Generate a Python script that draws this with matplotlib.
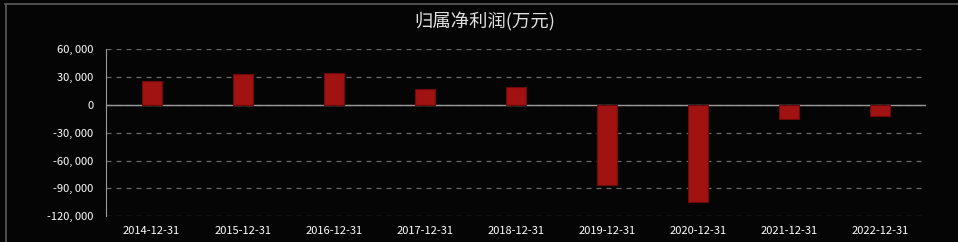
import matplotlib.pyplot as plt
from matplotlib.lines import Line2D
from matplotlib.ticker import FuncFormatter

plt.rcParams['font.family'] = ['Noto Sans CJK SC', 'DejaVu Sans']

# ===== データ =====
dates = ["2014-12-31", "2015-12-31", "2016-12-31", "2017-12-31", "2018-12-31",
         "2019-12-31", "2020-12-31", "2021-12-31", "2022-12-31"]
profit = [25700, 33200, 34600, 17100, 19300, -86800, -105000, -15000, -11800]
yticks = [60000, 30000, 0, -30000, -60000, -90000, -120000]

bg = "#050505"
fig = plt.figure(figsize=(9.58, 2.42), dpi=100, facecolor=bg)

# 外枠（上と左のみ）
fig.add_artist(Line2D([5 / 958, 1.0], [1 - 3.5 / 242] * 2, transform=fig.transFigure,
                      color="#555555", linewidth=1.3))
fig.add_artist(Line2D([5.5 / 958] * 2, [0.0, 1 - 3.5 / 242], transform=fig.transFigure,
                      color="#555555", linewidth=1.3))

ax = fig.add_axes([106 / 958, 1 - 216.3 / 242, 820 / 958, (216.3 - 49.3) / 242])
ax.set_facecolor(bg)

x = range(len(dates))
ax.bar(x, profit, width=0.22, color="#a11212", edgecolor="#6e0a0a",
       linewidth=0.8, zorder=3)

ax.set_xlim(-0.5, len(dates) - 0.5)
ax.set_ylim(-120000, 60000)
ax.set_yticks(yticks)
ax.yaxis.set_major_formatter(FuncFormatter(lambda v, p: f"{int(v):,}".replace(",", ", ")))
ax.set_xticks(list(x))
ax.set_xticklabels(dates)

ax.grid(axis="y", color="#6a6a6a", linestyle=(0, (4, 4)), linewidth=0.9, zorder=0)
ax.axhline(0, color="#9a9a9a", linewidth=1.0, zorder=2)

for s in ["top", "right", "bottom"]:
    ax.spines[s].set_visible(False)
ax.spines["left"].set_color("#9a9a9a")

ax.tick_params(axis="both", length=0, colors="white", labelsize=8)
ax.tick_params(axis="y", pad=9)
ax.tick_params(axis="x", pad=7)

fig.text(485 / 958, 1 - 22 / 242, "归属净利润(万元)", ha="center", va="center",
         color="#e0e0e0", fontsize=13.2)

fig.savefig("out.png", dpi=100, facecolor=bg)
